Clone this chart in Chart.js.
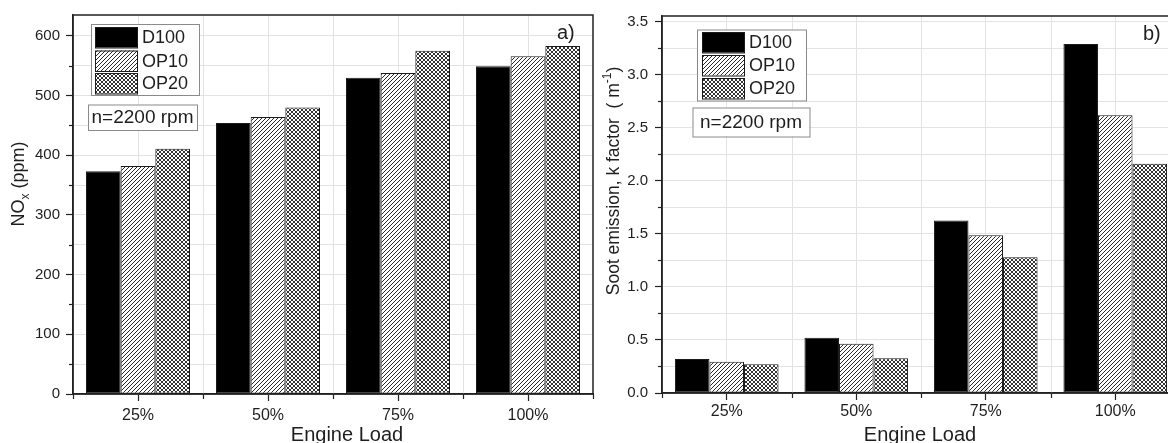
<!DOCTYPE html>
<html><head><meta charset="utf-8">
<script src="https://cdn.jsdelivr.net/npm/chart.js@4/dist/chart.umd.min.js"></script>
<style>
html,body{margin:0;padding:0;background:#fff;overflow:hidden;width:1168px;height:443px}
#wrap{position:relative;width:1168px;height:443px;overflow:hidden;background:#fff}
#c1{position:absolute;left:0;top:0}
#c2{position:absolute;left:600px;top:0}
</style></head><body>
<div id="wrap"><canvas id="c1" width="600" height="443"></canvas><canvas id="c2" width="600" height="443"></canvas></div>
<script>
// ---------- data ----------
const categories = ['25%', '50%', '75%', '100%'];
const seriesNames = ['D100', 'OP10', 'OP20'];
const noxD100 = [373, 454, 530, 549];
const noxOP10 = [382, 464, 538, 566];
const noxOP20 = [411, 480, 575, 583];
const sootD100 = [0.32, 0.52, 1.626, 3.29];
const sootOP10 = [0.294, 0.465, 1.487, 2.617];
const sootOP20 = [0.27, 0.328, 1.279, 2.16];
const noxTickLabels = ['0', '100', '200', '300', '400', '500', '600'];
const sootTickLabels = ['0.0', '0.5', '1.0', '1.5', '2.0', '2.5', '3.0', '3.5'];
const xTitle = 'Engine Load';
const speedNote = 'n=2200 rpm';

const FONT = '"Liberation Sans", Arial, Helvetica, sans-serif';
const TXT = '#1e1e1e';
const GRID = '#e3e3e3';
const AXIS = '#222';

// ---------- patterns ----------
function makePattern(kind) {
  const c = document.createElement('canvas');
  c.width = 4; c.height = 4;
  const g = c.getContext('2d');
  g.fillStyle = '#fff'; g.fillRect(0, 0, 4, 4);
  g.fillStyle = kind === 'hatch' ? '#2a2a2a' : '#333';
  const px = kind === 'hatch'
    ? [[3,0],[2,1],[1,2],[0,3]]
    : [[0,0],[1,1],[2,2],[3,3],[3,0],[2,1],[1,2],[0,3]];
  px.forEach(p => g.fillRect(p[0], p[1], 1, 1));
  return document.getElementById('c1').getContext('2d').createPattern(c, 'repeat');
}
const fills = ['#000', makePattern('hatch'), makePattern('cross')];

function buildTicks(labels) {
  const v = labels.map(Number), out = [];
  for (let i = 0; i < v.length; i++) {
    out.push({ value: v[i], mj: true, lab: labels[i] });
    if (i < v.length - 1) out.push({ value: (v[i] + v[i + 1]) / 2, mj: false, lab: '' });
  }
  return out;
}

function datasets(arrs) {
  return arrs.map((d, i) => ({
    label: seriesNames[i], data: d, backgroundColor: fills[i],
    borderColor: '#1a1a1a', borderWidth: 1, borderSkipped: false,
    categoryPercentage: 0.8, barPercentage: 1
  }));
}

function drawRich(ctx, cx, cy, pieces) {
  ctx.save();
  ctx.translate(cx, cy);
  ctx.rotate(-Math.PI / 2);
  ctx.fillStyle = TXT;
  ctx.textBaseline = 'alphabetic';
  ctx.textAlign = 'left';
  let total = 0;
  pieces.forEach(p => { ctx.font = p.s + 'px ' + FONT; p.w = ctx.measureText(p.t).width; total += p.w; });
  let x = -total / 2;
  pieces.forEach(p => { ctx.font = p.s + 'px ' + FONT; ctx.fillText(p.t, x, 6.5 + (p.dy || 0)); x += p.w; });
  ctx.restore();
}

function decoPlugin(cfg) {
  return {
    id: 'deco',
    beforeDatasetsDraw(chart) {
      const { ctx, chartArea: a, scales: { x } } = chart;
      const n = categories.length, w = (x.right - x.left) / n;
      ctx.save(); ctx.strokeStyle = GRID; ctx.lineWidth = 1;
      for (let i = 1; i < n; i++) {
        const px = Math.round(x.left + i * w) + 0.5;
        ctx.beginPath(); ctx.moveTo(px, a.top); ctx.lineTo(px, a.bottom); ctx.stroke();
      }
      ctx.restore();
    },
    afterDraw(chart) {
      const { ctx, chartArea: a, scales: { x, y } } = chart;
      ctx.save();
      // frame
      ctx.strokeStyle = AXIS; ctx.lineWidth = 1.5;
      ctx.strokeRect(a.left, a.top, a.right - a.left, a.bottom - a.top);
      // minor y ticks
      ctx.lineWidth = 1.2;
      y.ticks.forEach(t => {
        if (!t.mj) {
          const py = Math.round(y.getPixelForValue(t.value)) + 0.5;
          ctx.beginPath(); ctx.moveTo(a.left - 4, py); ctx.lineTo(a.left, py); ctx.stroke();
        }
      });
      // boundary x ticks
      const n = categories.length, w = (x.right - x.left) / n;
      for (let i = 0; i <= n; i++) {
        const px = Math.round(x.left + i * w) + 0.5;
        ctx.beginPath(); ctx.moveTo(px, a.bottom); ctx.lineTo(px, a.bottom + 5); ctx.stroke();
      }
      // y title
      drawRich(ctx, cfg.yt.x, cfg.yt.y, cfg.yt.pieces);
      // x title
      ctx.fillStyle = TXT; ctx.font = '20px ' + FONT; ctx.textAlign = 'center'; ctx.textBaseline = 'alphabetic';
      ctx.fillText(xTitle, cfg.xtX, 441);
      // panel letter
      ctx.textAlign = 'left';
      ctx.fillText(cfg.letter, cfg.letterX, cfg.letterY);
      // legend
      const L = cfg.legend;
      ctx.fillStyle = '#fff';
      ctx.fillRect(L.x, L.y, L.w, L.h);
      ctx.strokeStyle = '#8a8a8a'; ctx.lineWidth = 1;
      ctx.strokeRect(L.x + 0.5, L.y + 0.5, L.w, L.h);
      seriesNames.forEach((nm, i) => {
        const sy = L.sy[i];
        ctx.fillStyle = fills[i];
        ctx.fillRect(L.sx, sy, L.sw, L.sh);
        ctx.strokeStyle = '#1a1a1a'; ctx.lineWidth = 1;
        ctx.strokeRect(L.sx + 0.5, sy + 0.5, L.sw, L.sh);
        ctx.fillStyle = TXT; ctx.font = '18px ' + FONT; ctx.textBaseline = 'middle'; ctx.textAlign = 'left';
        ctx.fillText(nm, L.tx, sy + L.sh / 2 + 1);
      });
      // n box
      const B = cfg.nbox;
      ctx.fillStyle = '#fff'; ctx.fillRect(B.x, B.y, B.w, B.h);
      ctx.strokeStyle = '#8a8a8a'; ctx.lineWidth = 1;
      ctx.strokeRect(B.x + 0.5, B.y + 0.5, B.w, B.h);
      ctx.fillStyle = TXT; ctx.font = '19px ' + FONT; ctx.textAlign = 'center'; ctx.textBaseline = 'middle';
      ctx.fillText(speedNote, B.x + B.w / 2, B.y + B.h / 2 + 1);
      ctx.restore();
    }
  };
}

function makeChart(id, arrs, tickLabels, ymax, lay, cfg) {
  const ticks = buildTicks(tickLabels);
  return new Chart(document.getElementById(id), {
    type: 'bar',
    data: { labels: categories, datasets: datasets(arrs) },
    options: {
      responsive: false, animation: false, devicePixelRatio: 1,
      layout: { padding: { top: lay.top, right: lay.right, left: 0, bottom: 0 } },
      plugins: { legend: { display: false }, tooltip: { enabled: false } },
      scales: {
        x: {
          type: 'category', offset: true,
          grid: { offset: false, color: GRID, lineWidth: 1, tickLength: 7, tickColor: AXIS, tickWidth: 1.2 },
          border: { color: AXIS, width: 1.5 },
          ticks: { color: TXT, font: { family: FONT, size: 16 }, padding: lay.xpad, maxRotation: 0 },
          afterFit: s => { s.height = lay.xh; }
        },
        y: {
          min: 0, max: ymax,
          afterBuildTicks: s => { s.ticks = ticks.map(t => Object.assign({}, t)); },
          grid: { color: GRID, lineWidth: 1, tickLength: 7, tickWidth: 1.2,
                  tickColor: c => (c.tick && c.tick.mj) ? AXIS : 'rgba(0,0,0,0)' },
          border: { color: AXIS, width: 1.5 },
          ticks: { color: TXT, font: { family: FONT, size: 15 }, padding: lay.ypad,
                   callback: (v, i, arr) => arr[i].lab },
          afterFit: s => { s.width = lay.yw; }
        }
      }
    },
    plugins: [decoPlugin(cfg)]
  });
}

makeChart('c1', [noxD100, noxOP10, noxOP20], noxTickLabels, 635,
  { top: 13, right: 7, xh: 49, yw: 73, ypad: 6, xpad: 5 },
  {
    yt: { x: 17, y: 184, pieces: [{ t: 'NO', s: 18 }, { t: 'x', s: 12, dy: 5 }, { t: ' (ppm)', s: 18 }] },
    xtX: 347, letter: 'a)', letterX: 557, letterY: 39,
    legend: { x: 91, y: 24, w: 108, h: 71, sx: 95, sw: 42, sh: 20.5, sy: [27, 50.5, 73], tx: 142 },
    nbox: { x: 88, y: 104.5, w: 109, h: 25.5 }
  });

makeChart('c2', [sootD100, sootOP10, sootOP20], sootTickLabels, 3.553,
  { top: 11, right: 20, xh: 50, yw: 62, ypad: 7, xpad: 2 },
  {
    yt: { x: 12, y: 181, pieces: [{ t: 'Soot emission, k factor  ( m', s: 17.5 }, { t: '-1', s: 12, dy: -8 }, { t: ')', s: 17.5 }] },
    xtX: 320, letter: 'b)', letterX: 543, letterY: 40,
    legend: { x: 97, y: 29.5, w: 109, h: 71, sx: 102, sw: 42, sh: 20.5, sy: [32, 55, 78], tx: 149 },
    nbox: { x: 92.5, y: 107.5, w: 117, h: 29 }
  });
</script>
</body></html>
